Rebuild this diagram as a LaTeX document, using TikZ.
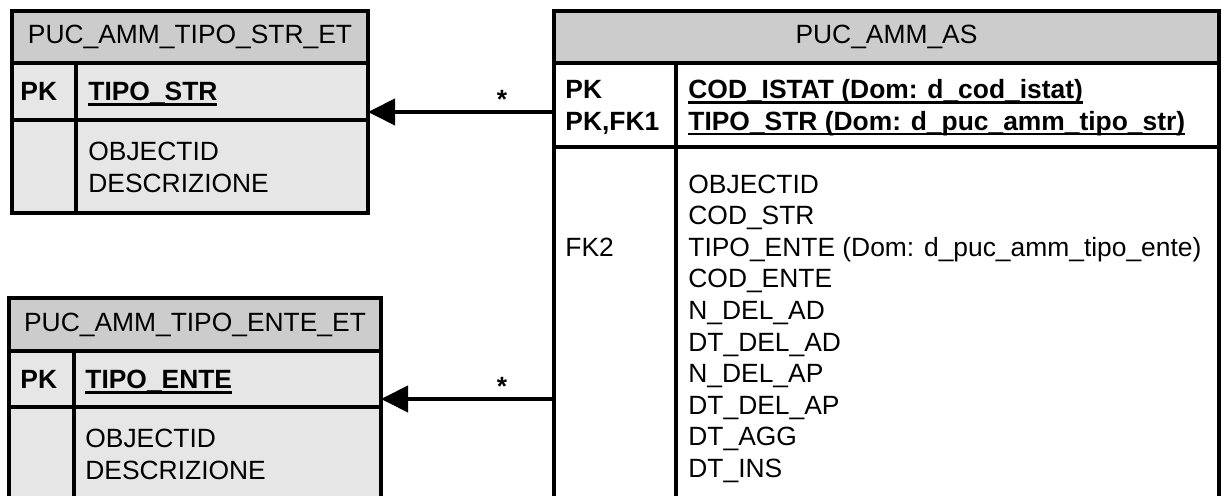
\documentclass[tikz,border=0pt]{standalone}
\usepackage{fontspec}
\setmainfont{Liberation Sans}
\usetikzlibrary{arrows.meta,positioning}
\definecolor{hdrgray}{RGB}{204,204,204}
\definecolor{rowgray}{RGB}{230,230,230}
\newcommand\pkul[1]{\setbox0\hbox{#1}\rlap{\smash{\rule[-2.6pt]{\wd0}{1.3pt}}}\box0}

\begin{document}
\begin{tikzpicture}[x=0.5pt,y=-0.5pt,tab/.style={draw=black,line width=1.6pt,inner sep=0pt,outer sep=0pt},hdr/.style={tab,fill=hdrgray,font=\fontsize{13.2}{15.8}\selectfont},lbl/.style={inner sep=0pt,anchor=north west,align=left,font=\fontsize{13.2}{15.8}\selectfont},key/.style={lbl,font=\fontsize{13.2}{15.8}\selectfont\bfseries},star/.style={above,inner sep=0.5pt,font=\fontsize{13.2}{15.8}\selectfont\bfseries},fk/.style={-{Triangle[length=13.5pt,width=13pt]},line width=2pt}]
\useasboundingbox (0,0) rectangle (1221,496);

% PUC_AMM_TIPO_STR_ET
\node[tab,fill=rowgray,minimum width=178pt,minimum height=101pt] (strtab) at (190,112) {};
\node[hdr,minimum width=178pt,minimum height=26pt] (strhead) at (190,37) {PUC\_AMM\_TIPO\_STR\_ET};
\node[tab,minimum width=178pt,minimum height=28.5pt] (strkey) at (190,91.5) {};
\draw[tab] ([xshift=32pt]strkey.north west) -- ([xshift=32pt]strtab.south west);
\node[key] (strpk) at (20,78) {\strut PK};
\node[key] (strpkf) at (88,78) {\strut\pkul{TIPO\_STR}};
\node[lbl] (strattr) at (88,138) {\strut OBJECTID\\DESCRIZIONE};

% PUC_AMM_TIPO_ENTE_ET
\node[tab,fill=rowgray,minimum width=186pt,minimum height=101pt] (entetab) at (195,399) {};
\node[hdr,minimum width=186pt,minimum height=26.5pt] (entehead) at (195,324.5) {PUC\_AMM\_TIPO\_ENTE\_ET};
\node[tab,minimum width=186pt,minimum height=28pt] (entekey) at (195,379) {};
\draw[tab] ([xshift=32.5pt]entekey.north west) -- ([xshift=32.5pt]entetab.south west);
\node[key] (entepk) at (20,366) {\strut PK};
\node[key] (entepkf) at (85,366) {\strut\pkul{TIPO\_ENTE}};
\node[lbl] (enteattr) at (85,425) {\strut OBJECTID\\DESCRIZIONE};

% PUC_AMM_AS
\node[tab,fill=white,minimum width=332.5pt,minimum height=247pt] (astab) at (886.5,258) {};
\node[hdr,minimum width=332.5pt,minimum height=26pt] (ashead) at (886.5,37) {PUC\_AMM\_AS};
\node[tab,minimum width=332.5pt,minimum height=42pt] (askey) at (886.5,105) {};
\draw[tab] ([xshift=61pt]askey.north west) -- ([xshift=61pt]astab.south west);
\node[key] (aspk) at (565,76) {\strut PK\\PK,FK1};
\node[key] (aspkf) at (688,76) {\strut\pkul{COD\_ISTAT (Dom: d\_cod\_istat)}\\\pkul{TIPO\_STR (Dom: d\_puc\_amm\_tipo\_str)}};
\node[lbl] (asfk) at (565,234) {\strut FK2};
\node[lbl] (asattr) at (688,170.5) {\strut OBJECTID\\COD\_STR\\TIPO\_ENTE (Dom: d\_puc\_amm\_tipo\_ente)\\COD\_ENTE\\N\_DEL\_AD\\DT\_DEL\_AD\\N\_DEL\_AP\\DT\_DEL\_AP\\DT\_AGG\\DT\_INS};

\draw[fk] (strtab.east -| astab.west) -- node[star,pos=0.28] (strmult) {*} (strtab.east);
\draw[fk] (entetab.east -| astab.west) -- node[star,pos=0.3] (entemult) {*} (entetab.east);
\end{tikzpicture}
\end{document}
